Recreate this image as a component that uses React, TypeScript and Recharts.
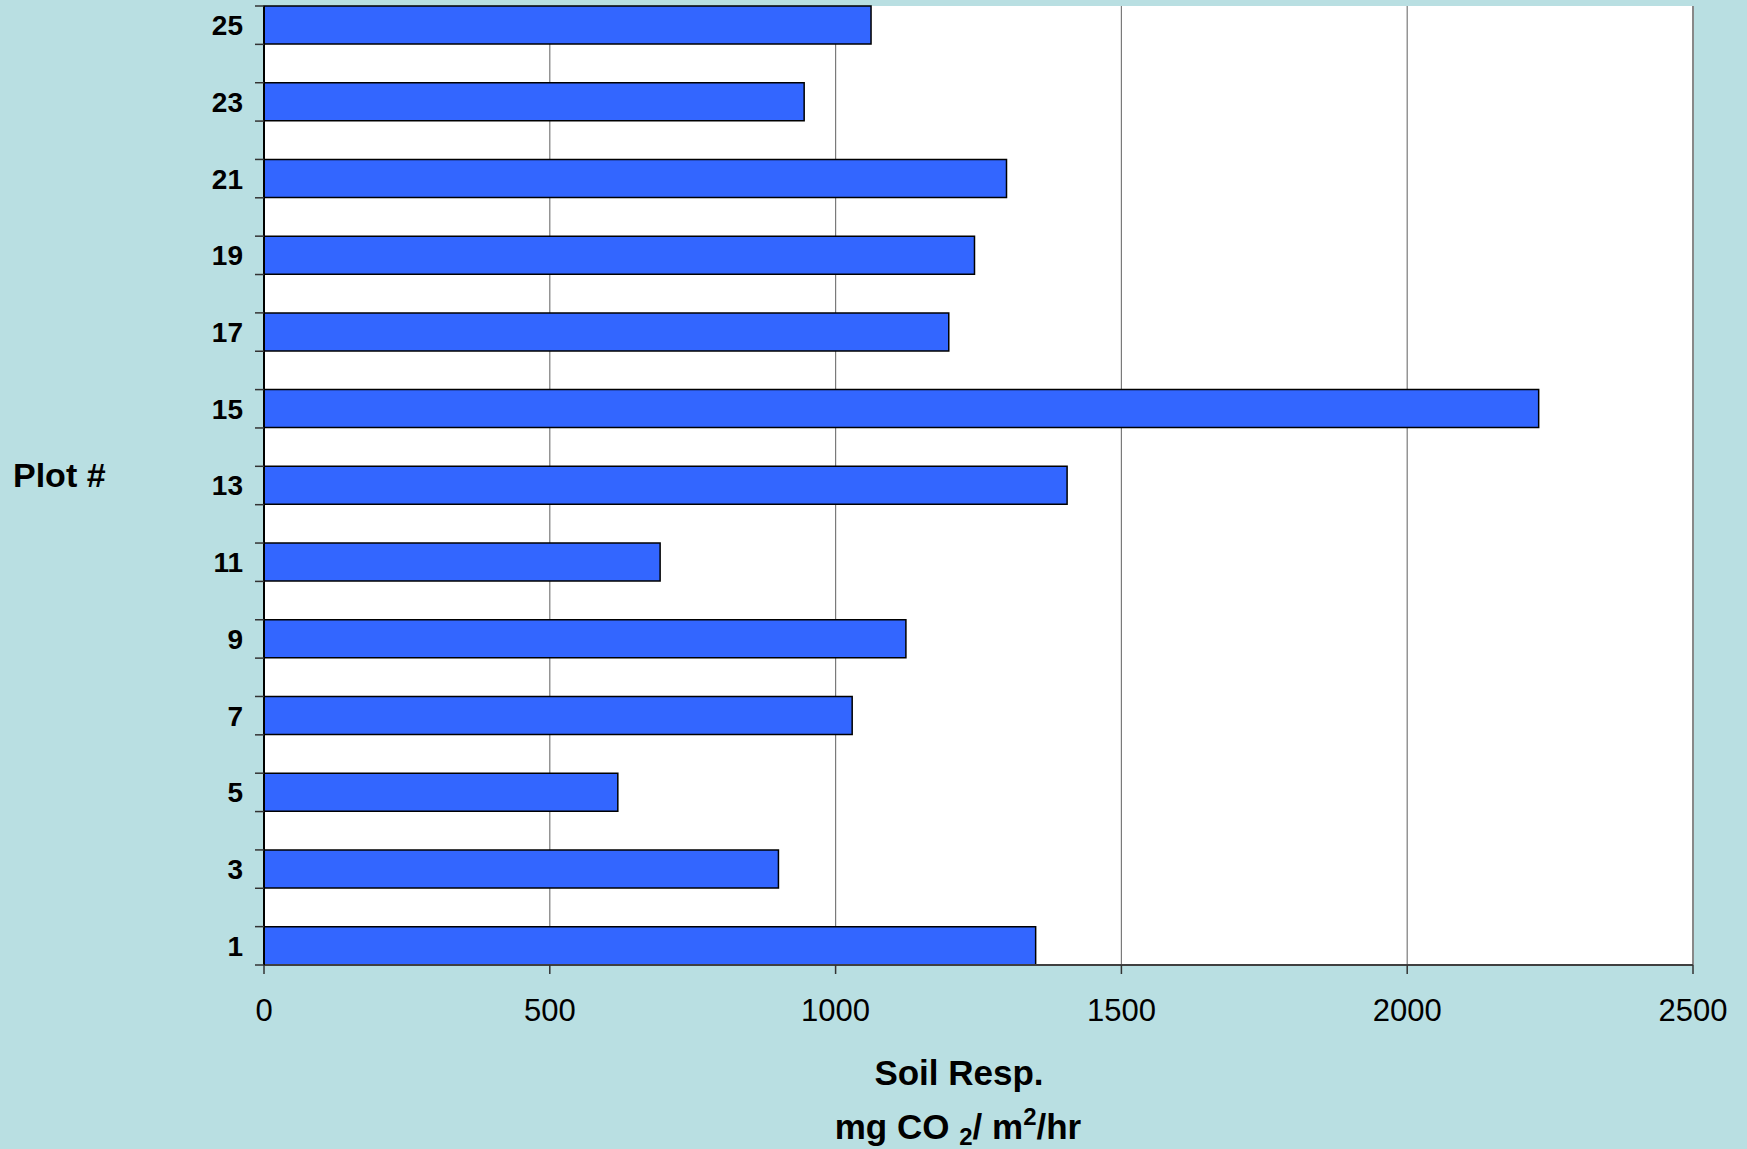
import React from 'react'
import {
  BarChart,
  Bar,
  XAxis,
  YAxis,
  CartesianGrid,
  ReferenceLine,
} from 'recharts'

const PLOTS = [
  '1', '2', '3', '4', '5', '6', '7', '8', '9', '10', '11', '12', '13',
  '14', '15', '16', '17', '18', '19', '20', '21', '22', '23', '24', '25',
]

// soil respiration per plot, mg CO2 / m2 / hr (even plots not measured)
const RESPIRATION: (number | null)[] = [
  1350, null, 900, null, 619, null, 1029, null, 1123, null, 693, null, 1405,
  null, 2230, null, 1198, null, 1243, null, 1299, null, 945, null, 1062,
]

const X_TICKS = [0, 500, 1000, 1500, 2000, 2500]

const W = 1747
const H = 1149
const BG = '#b9dfe2'
const FONT = '"Liberation Sans", Arial, sans-serif'

const data = PLOTS.map((plot, i) => ({ plot, resp: RESPIRATION[i] }))

const TICK_LEN = 9
const TICK_GAP = 12
const BAND_HALF = 959 / 25 / 2

// category ticks sit on band edges, labels only on odd plots
function PlotTick(props: any) {
  const { x, y, payload, index } = props
  const half = payload?.offset || BAND_HALF
  const axisX = x + TICK_LEN + TICK_GAP
  const odd = Number(payload.value) % 2 === 1
  return (
    <g>
      <line x1={axisX - TICK_LEN} x2={axisX} y1={y - half} y2={y - half} stroke="#333" strokeWidth={1.5} />
      {index === 0 && (
        <line x1={axisX - TICK_LEN} x2={axisX} y1={y + half} y2={y + half} stroke="#333" strokeWidth={1.5} />
      )}
      {odd && (
        <text
          x={x}
          y={y}
          dy="0.355em"
          textAnchor="end"
          fontFamily={FONT}
          fontWeight="bold"
          fontSize={28}
          fill="#000"
        >
          {payload.value}
        </text>
      )}
    </g>
  )
}

export default function App() {
  return (
    <div style={{ position: 'fixed', left: 0, top: 0, width: W, height: H, background: BG }}>
      <BarChart
        width={W}
        height={H}
        data={data}
        layout="vertical"
        barCategoryGap={0}
        margin={{ top: 6, right: 54, left: 164, bottom: 124 }}
      >
        <CartesianGrid horizontal={false} stroke="#7a7a7a" strokeWidth={1.2} fill="#fff" />
        <XAxis
          type="number"
          domain={[0, 2500]}
          ticks={X_TICKS}
          height={60}
          tickSize={9}
          tickMargin={25}
          tick={{ fontSize: 31, fill: '#000', fontFamily: FONT }}
          tickLine={{ stroke: '#333', strokeWidth: 1.5 }}
          axisLine={{ stroke: '#404040', strokeWidth: 2 }}
        />
        <XAxis
          xAxisId="top"
          orientation="top"
          type="number"
          domain={[0, 2500]}
          height={0}
          tick={false}
          tickLine={false}
          axisLine={{ stroke: '#888', strokeWidth: 2 }}
        />
        <YAxis
          dataKey="plot"
          type="category"
          reversed
          interval={0}
          width={100}
          tickSize={TICK_LEN}
          tickMargin={TICK_GAP}
          tickLine={false}
          tick={<PlotTick />}
          axisLine={{ stroke: '#000', strokeWidth: 2 }}
        />
        <ReferenceLine x={2500} stroke="#888" strokeWidth={2} />
        <Bar
          dataKey="resp"
          fill="#3366ff"
          stroke="#000"
          strokeWidth={1.5}
          isAnimationActive={false}
        />
      </BarChart>
      <svg
        width={W}
        height={H}
        style={{ position: 'absolute', left: 0, top: 0, pointerEvents: 'none' }}
        fontFamily={FONT}
        fontWeight="bold"
        fill="#000"
      >
        <text x={13} y={487} fontSize={34}>Plot #</text>
        <text x={959} y={1085} fontSize={35} textAnchor="middle">Soil Resp.</text>
        <text x={958} y={1139} fontSize={35} textAnchor="middle">
          <tspan>mg CO </tspan>
          <tspan fontSize={24} dy={6}>2</tspan>
          <tspan dy={-6}>/ m</tspan>
          <tspan fontSize={24} dy={-14}>2</tspan>
          <tspan dy={14}>/hr</tspan>
        </text>
      </svg>
    </div>
  )
}
